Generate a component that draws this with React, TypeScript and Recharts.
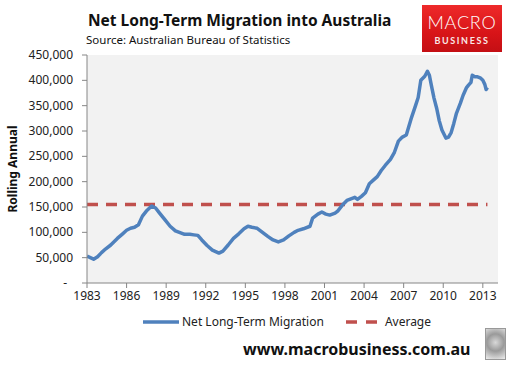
import React from "react";
import { LineChart, Line, XAxis, YAxis, CartesianGrid } from "recharts";

const years = [
  1983.0, 1983.25, 1983.5, 1983.8, 1984.1, 1984.4, 1984.8, 1985.3, 1985.7, 1986.0,
  1986.3, 1986.6, 1986.9, 1987.2, 1987.5, 1987.9, 1988.2, 1988.5, 1988.9, 1989.3,
  1989.7, 1990.0, 1990.4, 1990.8, 1991.1, 1991.4, 1991.7, 1992.1, 1992.5, 1993.0,
  1993.3, 1993.7, 1994.1, 1994.5, 1994.9, 1995.2, 1995.5, 1995.9, 1996.2, 1996.7,
  1997.1, 1997.5, 1997.9, 1998.3, 1998.7, 1999.0, 1999.4, 1999.9, 2000.1, 2000.5,
  2000.8, 2001.1, 2001.4, 2001.8, 2002.0, 2002.4, 2002.7, 2003.0, 2003.3, 2003.5,
  2003.8, 2004.1, 2004.4, 2004.7, 2005.0, 2005.3, 2005.6, 2006.0, 2006.3, 2006.6,
  2006.9, 2007.2, 2007.6, 2007.9, 2008.1, 2008.3, 2008.6, 2008.8, 2008.95, 2009.1,
  2009.3, 2009.5, 2009.7, 2009.9, 2010.2, 2010.4, 2010.6, 2010.8, 2011.0, 2011.3,
  2011.5, 2011.75, 2011.9, 2012.1, 2012.2, 2012.4, 2012.6, 2012.8, 2013.0, 2013.15,
  2013.25, 2013.35,
];

const migration = [
  53000, 50000, 47000, 52000, 60000, 67000, 75000, 88000, 97000, 104000,
  108000, 110000, 115000, 132000, 142000, 152000, 148000, 138000, 125000, 112000,
  103000, 100000, 96000, 96000, 95000, 94000, 85000, 74000, 65000, 59000,
  63000, 75000, 88000, 97000, 107000, 112000, 110000, 108000, 102000, 92000,
  85000, 81000, 85000, 93000, 100000, 104000, 107000, 112000, 128000, 136000,
  140000, 136000, 134000, 138000, 142000, 155000, 163000, 166000, 169000, 165000,
  171000, 178000, 196000, 203000, 210000, 222000, 232000, 244000, 258000, 280000,
  288000, 292000, 327000, 350000, 366000, 400000, 408000, 418000, 410000, 390000,
  365000, 345000, 320000, 302000, 286000, 288000, 297000, 315000, 335000, 355000,
  370000, 385000, 390000, 396000, 410000, 407000, 407000, 405000, 400000, 392000,
  382000, 386000,
];

const AVERAGE = 155000;

const xTicks = [1983, 1986, 1989, 1992, 1995, 1998, 2001, 2004, 2007, 2010, 2013];
const yTicks = [0, 50000, 100000, 150000, 200000, 250000, 300000, 350000, 400000, 450000];

const TITLE = "Net Long-Term Migration into Australia";
const SUBTITLE = "Source: Australian Bureau of Statistics";
const SERIES_NAME = "Net Long-Term Migration";
const AVG_NAME = "Average";
const URL_TEXT = "www.macrobusiness.com.au";
const LOGO_TOP = "MACRO";
const LOGO_BOTTOM = "BUSINESS";

const data = years.map((y, i) => ({ year: y, nltm: migration[i], avg: AVERAGE }));

const BLUE = "#4F81BD";
const RED = "#C0504D";
const AXIS = "#868686";
const FONT = "'Noto Sans', 'Open Sans', sans-serif";

const YTick = (props: any) => {
  const { x, y, payload } = props;
  const v = payload.value as number;
  const label = v === 0 ? "-" : v.toLocaleString("en-US");
  return (
    <text
      x={v === 0 ? x - 6 : x}
      y={y}
      dy={4}
      textAnchor="end"
      fontSize={12}
      fontFamily={FONT}
      fill="#222"
    >
      {label}
    </text>
  );
};

export default function App() {
  return (
    <div
      style={{
        position: "absolute",
        left: 0,
        top: 0,
        width: 524,
        height: 366,
        background: "#fff",
        fontFamily: FONT,
        overflow: "hidden",
      }}
    >
      <LineChart
        width={524}
        height={366}
        data={data}
        margin={{ top: 55, right: 26, bottom: 0, left: 27 }}
      >
        <CartesianGrid fill="#F2F2F2" horizontal={false} vertical={false} stroke="none" />
        <XAxis
          dataKey="year"
          type="number"
          domain={[1983, 2014.15]}
          ticks={xTicks}
          allowDataOverflow
          height={83}
          stroke={AXIS}
          tickSize={5}
          tickMargin={3}
          tick={{ fontSize: 12, fontFamily: FONT, fill: "#222" }}
          interval={0}
        />
        <YAxis
          type="number"
          domain={[0, 450000]}
          ticks={yTicks}
          width={60}
          stroke={AXIS}
          tickSize={5}
          tickMargin={9}
          tick={<YTick />}
          interval={0}
          label={{
            value: "Rolling Annual",
            angle: -90,
            position: "insideLeft",
            offset: -14,
            style: { fontSize: 12, fontWeight: 700, fontFamily: FONT, fill: "#111", textAnchor: "middle" },
          }}
        />
        <Line
          dataKey="avg"
          stroke={RED}
          strokeWidth={3.5}
          strokeDasharray="11 8"
          dot={false}
          isAnimationActive={false}
        />
        <Line
          dataKey="nltm"
          stroke={BLUE}
          strokeWidth={3.5}
          dot={false}
          isAnimationActive={false}
          strokeLinejoin="round"
        />
      </LineChart>

      <div
        style={{
          position: "absolute",
          left: 88,
          top: 9,
          fontSize: 15.5,
          fontWeight: 700,
          color: "#111",
          whiteSpace: "nowrap",
          lineHeight: "22px",
        }}
      >
        {TITLE}
      </div>
      <div
        style={{
          position: "absolute",
          left: 86,
          top: 32,
          fontSize: 11.5,
          color: "#111",
          whiteSpace: "nowrap",
          lineHeight: "16px",
        }}
      >
        {SUBTITLE}
      </div>

      <div
        style={{
          position: "absolute",
          left: 422,
          top: 5,
          width: 80,
          height: 47,
          background: "linear-gradient(180deg, #ee2a2a 0%, #d81418 60%, #c40f14 100%)",
          color: "#fff",
        }}
      >
        <div
          style={{
            position: "absolute",
            left: 0,
            width: 80,
            top: 9,
            textAlign: "center",
            fontFamily: "Lato, 'Open Sans', sans-serif",
            fontSize: 18,
            fontWeight: 300,
            lineHeight: "16px",
            letterSpacing: 0.8,
          }}
        >
          {LOGO_TOP}
        </div>
        <div
          style={{
            position: "absolute",
            left: 0,
            width: 80,
            top: 31,
            textAlign: "center",
            fontFamily: "Lato, 'Open Sans', sans-serif",
            fontSize: 9,
            fontWeight: 700,
            lineHeight: "10px",
            letterSpacing: 1.6,
            opacity: 0.9,
          }}
        >
          {LOGO_BOTTOM}
        </div>
      </div>

      <div
        style={{
          position: "absolute",
          left: 143,
          top: 313,
          display: "flex",
          alignItems: "center",
          fontSize: 12,
          color: "#222",
          whiteSpace: "nowrap",
        }}
      >
        <svg width={36} height={8} style={{ marginRight: 3 }}>
          <line x1={0} y1={4} x2={36} y2={4} stroke={BLUE} strokeWidth={3.5} />
        </svg>
        <span>{SERIES_NAME}</span>
        <svg width={32} height={8} style={{ marginLeft: 22, marginRight: 7 }}>
          <line x1={0} y1={4} x2={32} y2={4} stroke={RED} strokeWidth={3.5} strokeDasharray="11 9" />
        </svg>
        <span>{AVG_NAME}</span>
      </div>

      <div
        style={{
          position: "absolute",
          left: 243,
          top: 338,
          fontSize: 16,
          fontWeight: 700,
          color: "#111",
          whiteSpace: "nowrap",
          lineHeight: "22px",
        }}
      >
        {URL_TEXT}
      </div>

      <div
        style={{
          position: "absolute",
          left: 485,
          top: 328,
          width: 19,
          height: 30,
          border: "1px solid #999",
          background: "radial-gradient(circle at 50% 45%, #d8d8d8 0%, #9a9a9a 45%, #cfcfcf 80%, #eee 100%)",
        }}
      />
    </div>
  );
}
